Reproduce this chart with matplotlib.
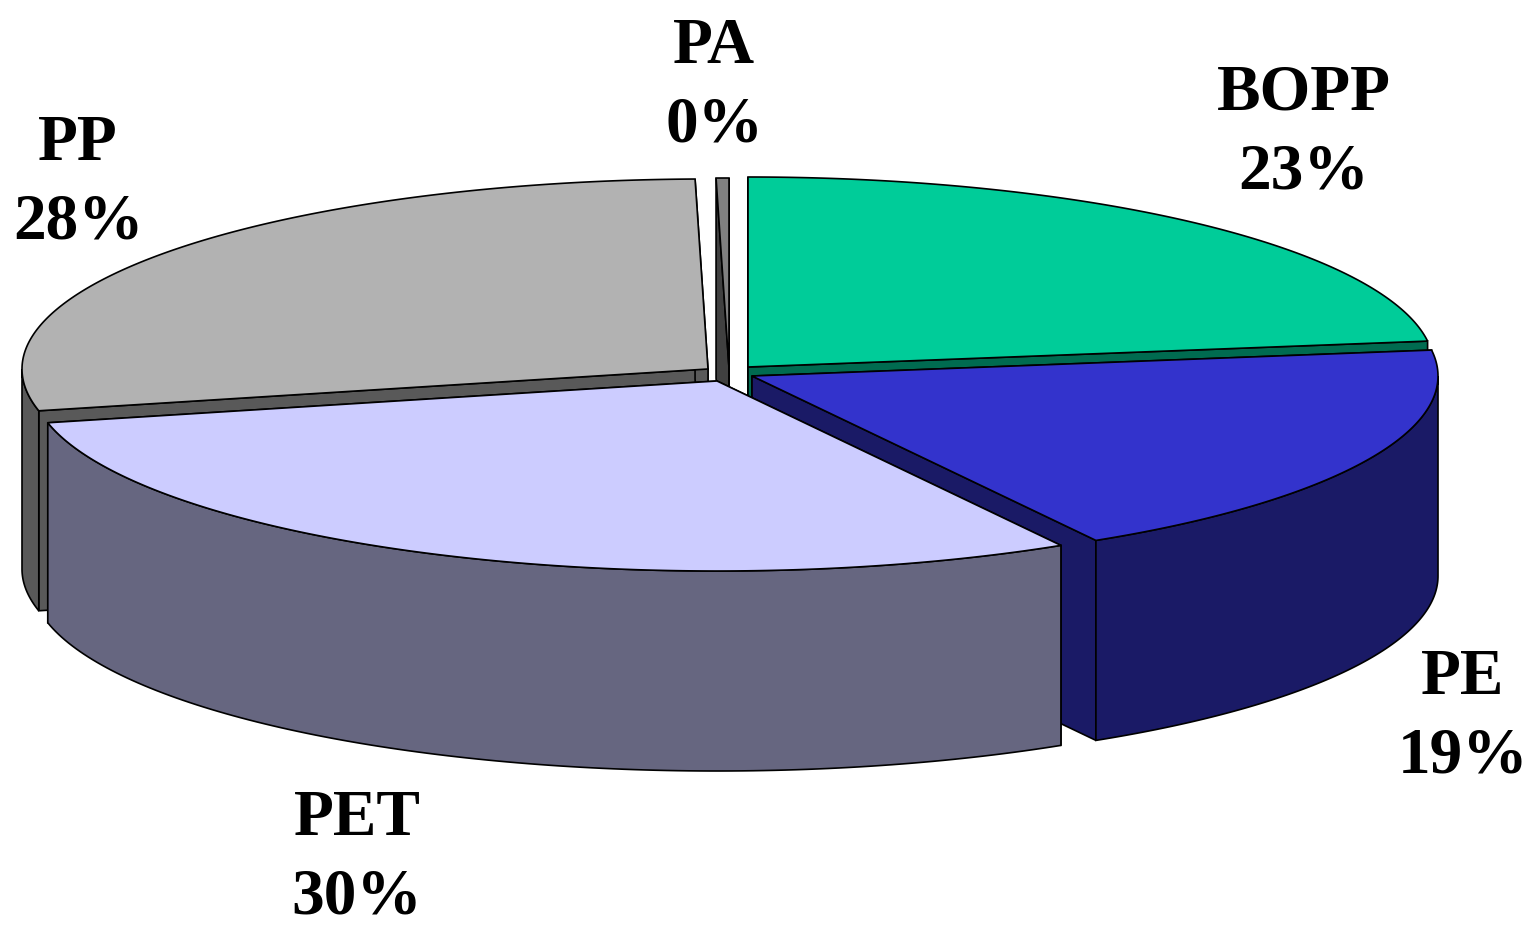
import numpy as np
import matplotlib
matplotlib.use('Agg')
import matplotlib.pyplot as plt
from matplotlib.patches import Polygon

names = ['BOPP', 'PE', 'PET', 'PP', 'PA']
values = [22.8, 18.8, 29.8, 28.2, 0.3]

top_colors = ['#00CC99', '#3333CC', '#CCCCFF', '#B2B2B2', '#808080']
side_colors = ['#006B50', '#1A1A66', '#666680', '#595959', '#404040']

# exploded centre of each slice, in picture pixels
centers = [(748, 367), (752, 376), (717, 381), (708, 369), (729, 368)]
label_pos = [(1304, 133), (1463, 717), (357, 858), (78, 183), (714, 86)]

RX = 686
RY = 190
DEPTH = 200


def rim(cx, cy, a):
    a = np.radians(a)
    return cx + RX * np.sin(a), cy - RY * np.cos(a)


def draw_slice(ax, cx, cy, a0, a1, top, side):
    x0, y0 = rim(cx, cy, a0)
    x1, y1 = rim(cx, cy, a1)
    # cut faces
    for x, y in [(x0, y0), (x1, y1)]:
        ax.add_patch(Polygon([(cx, cy), (x, y), (x, y + DEPTH), (cx, cy + DEPTH)],
                             fc=side, ec='black', lw=1.2))
    # outer wall, only the part that faces the viewer
    lo, hi = max(a0, 90), min(a1, 270)
    if hi > lo:
        t = np.linspace(lo, hi, 120)
        xs, ys = rim(cx, cy, t)
        pts = list(zip(xs, ys)) + list(zip(xs[::-1], ys[::-1] + DEPTH))
        ax.add_patch(Polygon(pts, fc=side, ec='black', lw=1.2))
    t = np.linspace(a0, a1, 200)
    xs, ys = rim(cx, cy, t)
    ax.add_patch(Polygon([(cx, cy)] + list(zip(xs, ys)), fc=top, ec='black', lw=1.2))


fig = plt.figure(figsize=(15.31, 9.26), dpi=100)
ax = fig.add_axes([0, 0, 1, 1])
ax.set_xlim(0, 1531)
ax.set_ylim(926, 0)
ax.axis('off')

edges = np.concatenate([[0], np.cumsum(values)]) / sum(values) * 360

# back to front
for i in [3, 4, 0, 1, 2]:
    draw_slice(ax, centers[i][0], centers[i][1], edges[i], edges[i + 1],
               top_colors[i], side_colors[i])

for i in range(len(names)):
    ax.text(label_pos[i][0], label_pos[i][1], f'{names[i]}\n{round(values[i])}%',
            ha='center', va='center', family='Liberation Serif', weight='bold',
            fontsize=47, linespacing=1.4, color='black')

fig.savefig('out.png', dpi=100)
